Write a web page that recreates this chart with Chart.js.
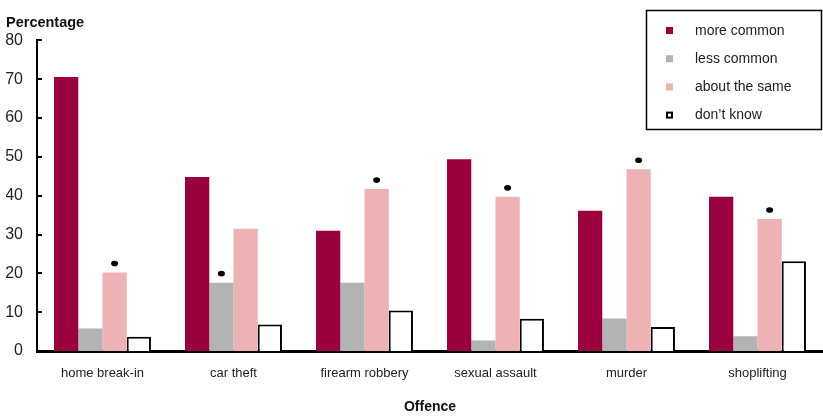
<!DOCTYPE html>
<html>
<head>
<meta charset="utf-8">
<script src="https://cdn.jsdelivr.net/npm/chart.js@4/dist/chart.umd.min.js"></script>
<style>
  html, body { margin: 0; padding: 0; background: #fff; }
  #wrap { width: 823px; height: 416px; }
</style>
</head>
<body>
<div id="wrap"><canvas id="chart" width="823" height="416"></canvas></div>
<script>
const offences = ['home break-in', 'car theft', 'firearm robbery', 'sexual assault', 'murder', 'shoplifting'];
const moreCommon = [70.6, 44.8, 31.0, 49.4, 36.1, 39.7];
const lessCommon = [5.8, 17.6, 17.6, 2.7, 8.4, 3.8];
const aboutSame = [20.2, 31.5, 41.7, 39.7, 46.8, 34.0];
const dontKnow = [3.7, 6.8, 10.4, 8.3, 6.2, 23.1];
// significance dots: [dataset index, category index]
const marked = [[2, 0], [1, 1], [2, 2], [2, 3], [2, 4], [2, 5]];
const yTicks = [0, 10, 20, 30, 40, 50, 60, 70, 80];

const FONT = '"Liberation Sans", Arial, sans-serif';

const extras = {
    id: 'extras',
    afterDatasetsDraw(chart) {
        const ctx = chart.ctx;
        ctx.save();
        ctx.fillStyle = '#000';
        marked.forEach(([d, i]) => {
            const bar = chart.getDatasetMeta(d).data[i];
            ctx.beginPath();
            ctx.ellipse(bar.x, bar.y - 9, 3.5, 2.8, 0, 0, Math.PI * 2);
            ctx.fill();
        });
        ctx.restore();
    },
    afterDraw(chart) {
        const ctx = chart.ctx;
        const y = chart.scales.y;
        const left = chart.chartArea.left;
        ctx.save();
        // inward tick marks on y axis
        ctx.strokeStyle = '#000';
        ctx.lineWidth = 2;
        yTicks.forEach(v => {
            const py = Math.round(y.getPixelForValue(v));
            ctx.beginPath();
            ctx.moveTo(left, py);
            ctx.lineTo(left + 5, py);
            ctx.stroke();
        });

        // legend box
        ctx.fillStyle = '#fff';
        ctx.fillRect(646, 10, 176, 120);
        ctx.lineWidth = 1.5;
        ctx.strokeRect(646.5, 10.5, 175, 119);
        ctx.font = '14px ' + FONT;
        ctx.textBaseline = 'middle';
        chart.data.datasets.forEach((ds, i) => {
            const cy = 31 + i * 28.2;
            if (ds.borderWidth) {
                ctx.fillStyle = '#fff';
                ctx.fillRect(666, cy - 4, 7, 7);
                ctx.lineWidth = 2;
                ctx.strokeStyle = '#000';
                ctx.strokeRect(667, cy - 3, 5, 5);
            } else {
                ctx.fillStyle = ds.backgroundColor;
                ctx.fillRect(666, cy - 4, 7, 7);
            }
            ctx.fillStyle = '#222';
            ctx.fillText(ds.label, 695, cy);
        });
        ctx.restore();
    }
};

new Chart(document.getElementById('chart'), {
    type: 'bar',
    data: {
        labels: offences,
        datasets: [
            { label: 'more common', data: moreCommon, backgroundColor: '#99003d' },
            { label: 'less common', data: lessCommon, backgroundColor: '#b3b3b3' },
            { label: 'about the same', data: aboutSame, backgroundColor: '#edb2b4' },
            { label: 'don\u2019t know', data: dontKnow, backgroundColor: '#ffffff', borderColor: '#000', borderWidth: 2 }
        ]
    },
    options: {
        responsive: false,
        animation: false,
        layout: { padding: { left: 6, right: 0, top: 0, bottom: 0 } },
        datasets: {
            bar: { categoryPercentage: 0.74, barPercentage: 1 }
        },
        plugins: {
            legend: { display: false },
            tooltip: { enabled: false },
            title: {
                display: true,
                text: 'Percentage',
                align: 'start',
                color: '#111',
                font: { family: FONT, size: 14.5, weight: 'bold' },
                padding: { top: 14, bottom: 9 }
            }
        },
        scales: {
            x: {
                afterFit(scale) { scale.height = 65; },
                grid: { display: false, drawTicks: false },
                border: { display: true, color: '#000', width: 3 },
                ticks: { color: '#222', font: { family: FONT, size: 13 }, padding: 15, maxRotation: 0 },
                title: {
                    display: true,
                    text: 'Offence',
                    color: '#111',
                    font: { family: FONT, size: 14, weight: 'bold' },
                    padding: { top: 17, bottom: 0 }
                }
            },
            y: {
                min: 0,
                max: 80,
                afterFit(scale) { scale.width = 31; },
                grid: { display: false, drawTicks: false },
                border: { display: true, color: '#000', width: 2 },
                ticks: { stepSize: 10, color: '#222', font: { family: FONT, size: 16 }, padding: 14 }
            }
        }
    },
    plugins: [extras]
});
</script>
</body>
</html>
